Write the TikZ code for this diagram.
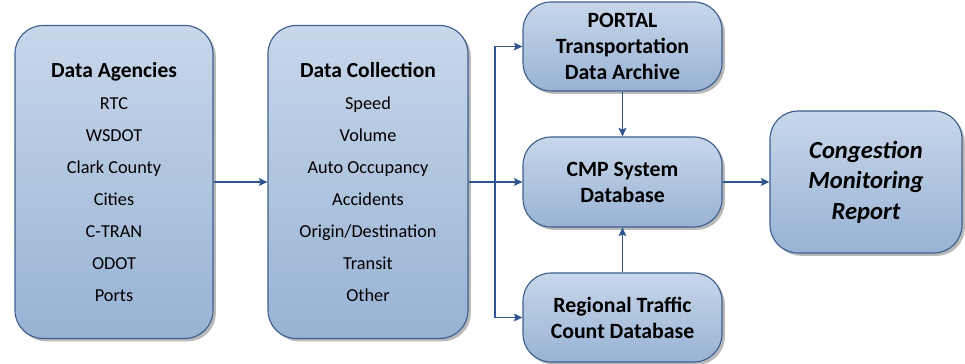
\documentclass[tikz,border=0pt]{standalone}
\usepackage{fontspec}
\setmainfont{Carlito}
\usetikzlibrary{arrows.meta, positioning, calc, shadows}

\definecolor{boxtop}{HTML}{C8D7EA}
\definecolor{boxbottom}{HTML}{98B2D4}
\definecolor{boxline}{HTML}{3E5F8E}
\definecolor{arrowblue}{HTML}{2F5590}

\begin{document}
\begin{tikzpicture}
    % --- Style Definitions ---
    \tikzset{
        box style/.style={
            draw=boxline,
            line width=0.8pt,
            rounded corners=0.7cm,
            top color=boxtop,
            bottom color=boxbottom,
            align=center,
            inner sep=0pt,
            drop shadow={shadow xshift=2pt, shadow yshift=-2pt, fill=black!50, opacity=0.55}
        },
        tall box/.style={
            box style,
            minimum width=4.95cm,
            minimum height=7.825cm,
            font=\fontsize{13}{22.8}\selectfont
        },
        store box/.style={
            box style,
            minimum width=4.975cm,
            minimum height=2.225cm,
            font=\fontsize{15.5}{18.5}\selectfont\bfseries
        },
        flow arrow/.style={
            -{Stealth[length=6pt, width=5.5pt, inset=1pt]},
            line width=1pt,
            arrowblue
        },
        flow line/.style={line width=1pt, arrowblue}
    }

    % fixed frame of the picture
    \useasboundingbox (0,0) rectangle (24.125,-9.1);

    % ==========================================
    % LEFT: sources and collection
    % ==========================================
    \node[tall box] (agencies) at (2.85,-4.55) {%
        {\fontsize{15.3}{22.8}\selectfont\bfseries Data Agencies}\\
        RTC\\ WSDOT\\ Clark County\\ Cities\\ C-TRAN\\ ODOT\\ Ports};

    \node[tall box, minimum width=5cm] (collection) at (9.2,-4.55) {%
        {\fontsize{15.3}{22.8}\selectfont\bfseries Data Collection}\\
        Speed\\ Volume\\ Auto Occupancy\\ Accidents\\ Origin/Destination\\ Transit\\ Other};

    % ==========================================
    % MIDDLE: databases
    % ==========================================
    \node[store box] (portal) at (15.5625,-1.1625) {PORTAL\\ Transportation\\ Data Archive};
    \node[store box, minimum height=2.25cm] (cmp) at (15.5625,-4.55) {CMP System\\ Database};
    \node[store box] (regional) at (15.5625,-7.9375) {Regional Traffic\\ Count Database};

    % ==========================================
    % RIGHT: report
    % ==========================================
    \node[box style, minimum width=4.8cm, minimum height=3.55cm,
          font=\fontsize{17.5}{21.6}\selectfont\bfseries\itshape] (report) at (21.65,-4.55)
          {Congestion\\ Monitoring\\ Report};

    % ==========================================
    % Connectors
    % ==========================================
    \draw[flow arrow] (agencies.east) -- (collection.west);

    % branch point after collection
    \coordinate (split) at (12.375,-4.55);
    \draw[flow line] (collection.east) -- (split);
    \draw[flow arrow] (split) -- (cmp.west);
    \draw[flow arrow] (split) |- (portal.west);
    \draw[flow arrow] (split) |- (regional.west);

    \draw[flow arrow] (portal.south) -- (cmp.north);
    \draw[flow arrow] (regional.north) -- (cmp.south);
    \draw[flow arrow] (cmp.east) -- (report.west);

\end{tikzpicture}
\end{document}
